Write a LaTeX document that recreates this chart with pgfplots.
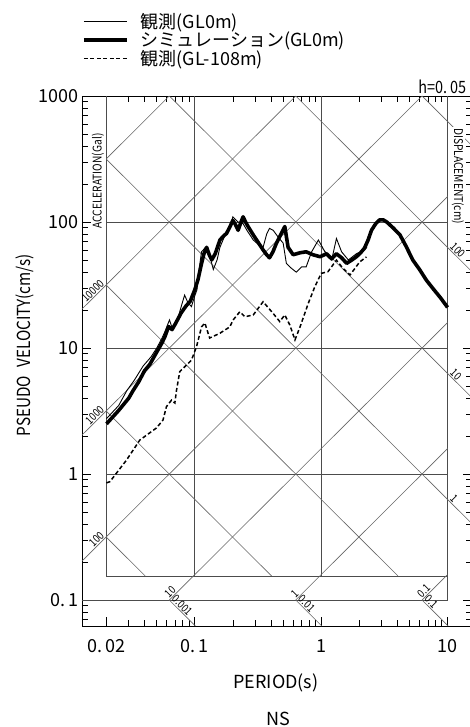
\documentclass[border=0pt]{standalone}
\usepackage{fontspec}
\setmainfont{Noto Sans CJK JP}
\newfontfamily\nar{Noto Sans CJK JP}[FakeStretch=0.85]
\usepackage{pgfplots}
\pgfplotsset{compat=1.18}
\definecolor{gridc}{gray}{0.30}
\definecolor{diagc}{gray}{0.40}
\begin{document}
\begin{tikzpicture}
\begin{axis}[name=ax, scale only axis, width=390pt, height=530pt,
  xmode=log, ymode=log, xmin=0.0128, xmax=15.6, ymin=0.0622, ymax=1000,
  clip=false,
  axis line style={black, line width=0.9pt},
  xtick={0.02,0.1,1,10}, xticklabels={0.\,02,0.\,1,1,10},
  ytick={0.1,1,10,100,1000}, yticklabels={0.\,1,1,10,100,1000},
  minor xtick={0.03,0.04,0.05,0.06,0.07,0.08,0.09,0.2,0.3,0.4,0.5,0.6,0.7,0.8,0.9,2,3,4,5,6,7,8,9},
  minor ytick={0.07,0.08,0.09,0.2,0.3,0.4,0.5,0.6,0.7,0.8,0.9,2,3,4,5,6,7,8,9,20,30,40,50,60,70,80,90,200,300,400,500,600,700,800,900},
  tick align=inside, tick pos=both, ticklabel pos=left,
  major tick length=9pt, minor tick length=6pt,
  every tick/.style={black, line width=0.7pt},
  tick label style={font=\fontsize{18}{20}\selectfont},
  xticklabel style={yshift=-10pt},
  xlabel={PERIOD(s)}, ylabel={PSEUDO\hspace{0.45em}VELOCITY(cm/s)},
  xlabel style={font=\fontsize{18}{20}\selectfont, at={(axis description cs:0.497,-0.1075)}, anchor=center},
  ylabel style={font=\fontsize{18}{20}\selectfont\nar, at={(axis description cs:-0.146,0.530)}, anchor=center},
  legend style={draw=none, fill=none, at={(axis description cs:0,1.1585)}, anchor=north west,
    font=\fontsize{18}{20}\selectfont, row sep=0pt, inner sep=0pt, nodes={inner sep=1pt},
    /tikz/every odd column/.append style={column sep=11pt}},
  legend cell align=left,
  legend image code/.code={\draw[#1] (0pt,0pt) -- (43pt,0pt);},
]
% ---- grid lines
\addplot[forget plot, gridc, line width=0.8pt] coordinates {(0.02,1) (10,1)};
\addplot[forget plot, gridc, line width=0.8pt] coordinates {(0.02,10) (10,10)};
\addplot[forget plot, gridc, line width=0.8pt] coordinates {(0.02,100) (10,100)};
\addplot[forget plot, gridc, line width=0.8pt] coordinates {(0.0128,0.1) (10,0.1)};
\addplot[forget plot, gridc, line width=0.8pt] coordinates {(0.02,0.155) (10,0.155)};
\addplot[forget plot, gridc, line width=0.8pt] coordinates {(0.02,0.155) (0.02,1000)};
\addplot[forget plot, gridc, line width=0.8pt] coordinates {(0.1,0.155) (0.1,1000)};
\addplot[forget plot, gridc, line width=0.8pt] coordinates {(1,0.155) (1,1000)};
\addplot[forget plot, gridc, line width=0.8pt] coordinates {(10,0.1) (10,1000)};
% ---- acceleration lines (Sv = A T / 2pi)
\addplot[forget plot, diagc, line width=0.6pt] coordinates {(6.2832,0.1) (10,0.159155)};
\addplot[forget plot, diagc, line width=0.6pt] coordinates {(0.62832,0.1) (10,1.59155)};
\addplot[forget plot, diagc, line width=0.6pt] coordinates {(0.062832,0.1) (10,15.9155)};
\addplot[forget plot, diagc, line width=0.6pt] coordinates {(0.0128,0.20372) (10,159.155)};
\addplot[forget plot, diagc, line width=0.6pt] coordinates {(0.0128,2.0372) (6.2832,1000)};
\addplot[forget plot, diagc, line width=0.6pt] coordinates {(0.0128,20.372) (0.62832,1000)};
\addplot[forget plot, diagc, line width=0.6pt] coordinates {(0.02,318.31) (0.062832,1000)};
% ---- displacement lines (Sv = 2pi D / T)
\addplot[forget plot, diagc, line width=0.6pt] coordinates {(0.02,0.31416) (0.040537,0.155)};
\addplot[forget plot, diagc, line width=0.6pt] coordinates {(0.062832,0.1) (0.10101,0.0622)};
\addplot[forget plot, diagc, line width=0.6pt] coordinates {(0.02,3.1416) (0.40537,0.155)};
\addplot[forget plot, diagc, line width=0.6pt] coordinates {(0.62832,0.1) (1.0101,0.0622)};
\addplot[forget plot, diagc, line width=0.6pt] coordinates {(0.02,31.416) (4.0537,0.155)};
\addplot[forget plot, diagc, line width=0.6pt] coordinates {(6.2832,0.1) (10.101,0.0622)};
\addplot[forget plot, diagc, line width=0.6pt] coordinates {(0.02,314.16) (15.6,0.40277)};
\addplot[forget plot, diagc, line width=0.6pt] coordinates {(0.062832,1000) (15.6,4.0277)};
\addplot[forget plot, diagc, line width=0.6pt] coordinates {(0.62832,1000) (15.6,40.277)};
\addplot[forget plot, diagc, line width=0.6pt] coordinates {(6.2832,1000) (15.6,402.77)};
% ---- data
\addplot[black, line width=0.9pt] coordinates {
(0.02,2.75) (0.025,3.5) (0.029,4.6) (0.033,5.5) (0.039,7.2) (0.045,8.5) (0.05,10) (0.055,12)
(0.058,13.5) (0.063,16.7) (0.067,13.9) (0.072,16) (0.078,21.3) (0.083,26.3) (0.088,23) (0.094,21.3)
(0.1,26) (0.104,29) (0.108,42) (0.113,58) (0.12,62) (0.13,56) (0.14,42) (0.15,50) (0.158,63)
(0.17,75) (0.19,92) (0.2,110) (0.22,100) (0.241,97) (0.26,85) (0.29,72) (0.32,66) (0.347,63)
(0.37,80) (0.39,89) (0.417,86) (0.456,76) (0.5,68) (0.53,47) (0.58,43) (0.635,40) (0.7,44)
(0.76,44) (0.84,58) (0.95,72) (1.07,58) (1.21,50) (1.32,74) (1.45,58) (1.64,50) (1.9,56)
(2.2,60) (2.3,63)};
\addlegendentry{観測(GL0m)}
\addplot[black, line width=3.6pt, line join=round] coordinates {
(0.02,2.5) (0.025,3.2) (0.03,4.0) (0.0325,4.6) (0.036,5.4) (0.04,6.6) (0.044,7.4) (0.05,9.3)
(0.055,11.0) (0.058,12.3) (0.062,14.8) (0.066,14.0) (0.07,15.5) (0.078,19.0) (0.085,21.5)
(0.092,23.5) (0.1,29) (0.106,35) (0.112,45) (0.118,56) (0.124,63) (0.13,55) (0.136,50)
(0.145,56) (0.158,72) (0.17,78) (0.178,81) (0.19,92) (0.2,103) (0.21,95) (0.22,86) (0.232,100)
(0.241,110) (0.252,100) (0.264,92) (0.29,79) (0.32,68) (0.347,60) (0.37,55) (0.39,52)
(0.415,58) (0.44,67) (0.48,80) (0.515,92) (0.547,63) (0.6,55) (0.68,57) (0.76,58) (0.86,55)
(0.98,53) (1.1,56) (1.21,51) (1.32,56) (1.45,52) (1.59,47) (1.75,50) (1.9,53) (2.05,57)
(2.2,62) (2.35,72) (2.5,86) (2.7,97) (2.9,104) (3.1,104) (3.3,100) (3.7,90) (4.2,79) (4.7,64)
(5.3,50) (6.0,42) (6.8,34.5) (7.8,29) (8.8,25) (10,21)};
\addlegendentry{シミュレーション(GL0m)}
\addplot[black, line width=1.5pt, dash pattern=on 4pt off 2.5pt] coordinates {
(0.02,0.85) (0.0213,0.87) (0.0288,1.29) (0.0367,1.86) (0.0497,2.32) (0.056,2.68) (0.0596,3.42)
(0.0654,3.86) (0.0695,3.66) (0.0716,4.6) (0.076,6.5) (0.094,8.0) (0.103,10.2) (0.113,14.7)
(0.12,15.8) (0.131,12) (0.158,13.1) (0.189,14.7) (0.201,16.7) (0.227,19.4) (0.249,17.7)
(0.29,18.3) (0.347,23.3) (0.417,18.8) (0.47,16.2) (0.515,18.3) (0.565,15.2) (0.62,11.6)
(0.68,14.7) (0.79,22.6) (0.89,30.6) (1.0,39.1) (1.13,40.3) (1.32,49.8) (1.49,42.8) (1.69,38)
(2.02,48.3) (2.28,52.8)};
\addlegendentry{観測(GL-108m)}
% ---- scale labels
\begin{scope}[every node/.style={font=\fontsize{11}{12}\selectfont\nar, inner sep=1pt}]
\node[rotate=45, anchor=south east] at (axis cs:0.02,31.831) {10000};
\node[rotate=45, anchor=south east] at (axis cs:0.02,3.1831) {1000};
\node[rotate=45, anchor=south east] at (axis cs:0.02,0.31831) {100};
\node[rotate=45, anchor=south west] at (axis cs:0.062832,0.1) {10};
\node[rotate=45, anchor=south west] at (axis cs:0.62832,0.1) {1};
\node[rotate=45, anchor=south west] at (axis cs:6.2832,0.1) {0.1};
\node[rotate=-45, anchor=south west] at (axis cs:0.062832,0.1) {0.001};
\node[rotate=-45, anchor=south west] at (axis cs:0.62832,0.1) {0.01};
\node[rotate=-45, anchor=south west] at (axis cs:6.2832,0.1) {0.1};
\node[rotate=-45, anchor=south west] at (axis cs:10,62.832) {100};
\node[rotate=-45, anchor=south west] at (axis cs:10,6.2832) {10};
\node[rotate=-45, anchor=south west] at (axis cs:10,0.62832) {1};
\node[rotate=90, anchor=center, fill=white, font=\fontsize{12}{13}\selectfont\nar] at (axis description cs:0.041,0.8396) {ACCELERATION(Gal)};
\node[rotate=-90, anchor=center, fill=white, font=\fontsize{12}{13}\selectfont\nar] at (axis description cs:0.964,0.849) {DISPLACEMENT(cm)};
\end{scope}
\node[anchor=base west, inner sep=0pt, font=\fontsize{17}{19}\selectfont\nar] at (axis description cs:0.862,1.004) {h=0.\,05};
\node[anchor=center, font=\fontsize{18}{20}\selectfont] at (axis description cs:0.503,-0.175) {NS};
\end{axis}
\pgfresetboundingbox
\path[use as bounding box] ([shift={(-82pt,-101pt)}]ax.south west) rectangle ([shift={(-2pt,96pt)}]ax.north east);
\end{tikzpicture}
\end{document}
